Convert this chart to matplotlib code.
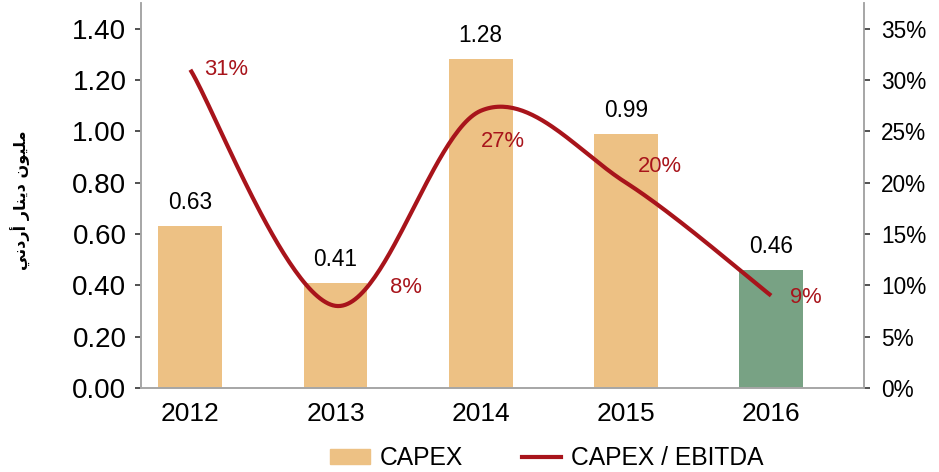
import numpy as np
import matplotlib
matplotlib.use("Agg")
import matplotlib.pyplot as plt
from matplotlib.ticker import FuncFormatter

# chart data
years = ["2012", "2013", "2014", "2015", "2016"]
capex = [0.63, 0.41, 1.28, 0.99, 0.46]
capex_ebitda = [0.31, 0.08, 0.27, 0.20, 0.09]
ratio_labels = ["31%", "8%", "27%", "20%", "9%"]

# "مليون دينار أردني" in presentation forms, visual order (matplotlib does no shaping)
ylabel_text = "\uFEF2\uFEE7\uFEA9\uFEAD\uFE83 \uFEAD\uFE8E\uFEE8\uFEF3\uFEA9 \uFEE5\uFEEE\uFEF4\uFEE0\uFEE3"

bar_color = "#EDC184"
last_color = "#78A284"
line_color = "#A8141B"
spine_color = "#A6A6A6"

plt.rcParams["font.family"] = ["Liberation Sans", "DejaVu Sans"]

fig = plt.figure(figsize=(9.39, 4.72), dpi=100)
ax = fig.add_axes([141 / 939, 1 - 388 / 472, (864 - 141) / 939, (388 - 3) / 472])
ax2 = ax.twinx()

x = np.arange(len(years))
colors = [bar_color] * (len(years) - 1) + [last_color]
ax.bar(x, capex, width=0.44, color=colors, zorder=2)
for xi, v in zip(x, capex):
    ax.annotate(f"{v:.2f}", (xi, v), xytext=(0, 12), textcoords="offset pixels",
                ha="center", va="bottom", fontsize=16.3, color="black")


# smoothed line, like a spreadsheet "smoothed line" (Catmull-Rom bezier)
def smooth(xs, ys, n=60):
    p = np.column_stack([xs, ys]).astype(float)
    ext = np.vstack([p[0], p, p[-1]])
    out = []
    for i in range(len(p) - 1):
        p0, p3 = p[i], p[i + 1]
        p1 = p0 + (ext[i + 2] - ext[i]) / 6
        p2 = p3 - (ext[i + 3] - ext[i + 1]) / 6
        t = np.linspace(0, 1, n)[:, None]
        seg = ((1 - t) ** 3) * p0 + 3 * ((1 - t) ** 2) * t * p1 + 3 * (1 - t) * t ** 2 * p2 + t ** 3 * p3
        out.append(seg if i == 0 else seg[1:])
    out = np.vstack(out)
    return out[:, 0], out[:, 1]


sx, sy = smooth(x, capex_ebitda)
ax2.plot(sx, sy, color=line_color, lw=3, solid_capstyle="butt", zorder=3)

offsets = [(36, 0), (70, 18), (22, -31), (34, 16), (35, -2)]
for xi, v, lab, off in zip(x, capex_ebitda, ratio_labels, offsets):
    ax2.annotate(lab, (xi, v), xytext=off, textcoords="offset pixels",
                 ha="center", va="center", fontsize=15.8, color=line_color)

ax.set_xlim(-0.34, 4.64)
ax.set_ylim(0, 1.5)
ax2.set_ylim(0, 0.375)
ax.set_yticks(np.arange(0, 1.41, 0.2))
ax2.set_yticks(np.arange(0, 0.351, 0.05))
ax.yaxis.set_major_formatter(FuncFormatter(lambda v, p: f"{v:.2f}"))
ax2.yaxis.set_major_formatter(FuncFormatter(lambda v, p: f"{v * 100:.0f}%"))
ax.set_xticks(x)
ax.set_xticklabels(years)

ax.tick_params(axis="y", labelsize=20, length=4.5, width=1.2, color="#333333", pad=6)
ax2.tick_params(axis="y", labelsize=16.3, length=4.5, width=1.2, color="#333333", pad=8)
ax.tick_params(axis="x", labelsize=19, length=0, pad=10)

for a in (ax, ax2):
    a.spines["top"].set_visible(False)
    for s in ("left", "right", "bottom"):
        a.spines[s].set_color(spine_color)
        a.spines[s].set_linewidth(1.2)

fig.text(21 / 939, 1 - 200 / 472, ylabel_text, rotation=90, ha="center", va="center",
         fontsize=11.5, fontweight="bold", family="DejaVu Sans")

handles = [plt.Rectangle((0, 0), 1, 1, color=bar_color),
           plt.Line2D([], [], color=line_color, lw=3)]
fig.legend(handles, ["CAPEX", "CAPEX / EBITDA"], loc="center",
           bbox_to_anchor=(547 / 939, 1 - 458 / 472), ncol=2, frameon=False,
           fontsize=17.7, handlelength=1.6, handleheight=0.6, handletextpad=0.4,
           columnspacing=2.4)

fig.savefig("out.png", dpi=100)
